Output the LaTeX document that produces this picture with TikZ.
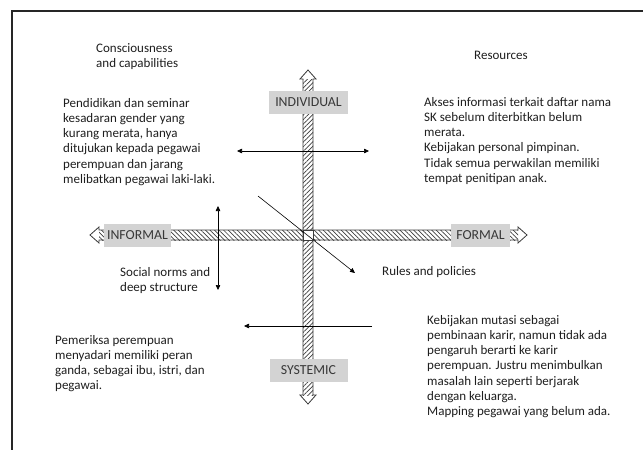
\documentclass[tikz,border=0pt]{standalone}
\usepackage{fontspec}
\setmainfont{Carlito}
\usetikzlibrary{arrows.meta,patterns.meta}
\definecolor{boxgray}{HTML}{D3D3D3}
\definecolor{txt}{HTML}{1E1E1E}
\definecolor{barline}{HTML}{3C3C3C}
\newcommand{\tblock}[1]{\parbox[t]{9cm}{\raggedright #1}}
\begin{document}
\begin{tikzpicture}[x=1pt,y=-1pt,
  body/.style={inner sep=0pt, anchor=base west, text=txt, font=\fontsize{13}{15.3}\selectfont},
  axislabel/.style={fill=boxgray, text=black!78, font=\fontsize{13.8}{15}\selectfont, minimum height=23pt, inner sep=0pt},
  thinarrow/.style={line width=0.6pt, draw=black},
  tipend/.style={-{Triangle[length=5pt,width=4.5pt]}},
  tipboth/.style={{Triangle[length=5pt,width=4.5pt]}-{Triangle[length=5pt,width=4.5pt]}},
  hatchV/.style={pattern={Lines[angle=45,distance=3.2pt,line width=0.7pt]}, pattern color=barline},
  hatchH/.style={pattern={Lines[angle=-45,distance=3.2pt,line width=0.7pt]}, pattern color=barline},
  barout/.style={draw=barline, line width=0.8pt, line join=miter},
]
\useasboundingbox (0,0) rectangle (643,450);
% frame
\draw[line width=2pt, color=black!85] (12,450) -- (12,11) -- (643,11);

% horizontal bar
\fill[hatchH] (99,230) rectangle (518,240);
\draw[barout] (90,235) -- (99,227) -- (99,230) -- (518,230) -- (518,227) -- (527,235) -- (518,243) -- (518,240) -- (99,240) -- (99,243) -- cycle;
% vertical bar
\fill[hatchV] (303,79) rectangle (313,395);
\draw[barout] (308,70) -- (316,79) -- (313,79) -- (313,395) -- (316,395) -- (308,404) -- (300,395) -- (303,395) -- (303,79) -- (300,79) -- cycle;
% intersection
\fill[white] (303,230) rectangle (313,240);
\draw[barout] (303,230) -- (303,240) (313,230) -- (313,240) (303,230) -- (313,230) (303,240) -- (313,240);

% axis labels
\node[axislabel, minimum width=79pt] (indiv) at (308.5,102.5) {INDIVIDUAL};
\node[axislabel, minimum width=78pt] (syst) at (308.5,370) {SYSTEMIC};
\node[axislabel, minimum width=67pt] (inf) at (137.5,235.5) {INFORMAL};
\node[axislabel, minimum width=59pt] (form) at (480.5,235.5) {FORMAL};

% thin arrows
\coordinate (h1a) at (237,151); \coordinate (h1b) at (369,151);
\coordinate (v1a) at (218,206); \coordinate (v1b) at (218,290);
\coordinate (d1a) at (258,196); \coordinate (d1b) at (355,273);
\coordinate (h2a) at (372,326); \coordinate (h2b) at (244,326);
\draw[thinarrow, tipboth] (h1a) -- (h1b);
\draw[thinarrow, tipboth] (v1a) -- (v1b);
\draw[thinarrow, tipend] (d1a) -- (d1b);
\draw[thinarrow, tipend] (h2a) -- (h2b);

% texts
\node[body] (cons) at (96,52) {\tblock{Consciousness\\and capabilities}};
\node[body] (res) at (474,59) {Resources};
\node[body] (tl) at (63,107) {\tblock{Pendidikan dan seminar\\kesadaran gender yang\\kurang merata, hanya\\ditujukan kepada pegawai\\perempuan dan jarang\\melibatkan pegawai laki-laki.}};
\node[body] (tr) at (424,106) {\tblock{Akses informasi terkait daftar nama\\SK sebelum diterbitkan belum\\merata.\\Kebijakan personal pimpinan.\\Tidak semua perwakilan memiliki\\tempat penitipan anak.}};
\node[body] (soc) at (120,276) {\tblock{Social norms and\\deep structure}};
\node[body] (rules) at (382,275) {Rules and policies};
\node[body] (bl) at (55,344) {\tblock{Pemeriksa perempuan\\menyadari memiliki peran\\ganda, sebagai ibu, istri, dan\\pegawai.}};
\node[body] (br) at (427,324) {\tblock{Kebijakan mutasi sebagai\\pembinaan karir, namun tidak ada\\pengaruh berarti ke karir\\perempuan. Justru menimbulkan\\masalah lain seperti berjarak\\dengan keluarga.\\Mapping pegawai yang belum ada.}};
\end{tikzpicture}
\end{document}
